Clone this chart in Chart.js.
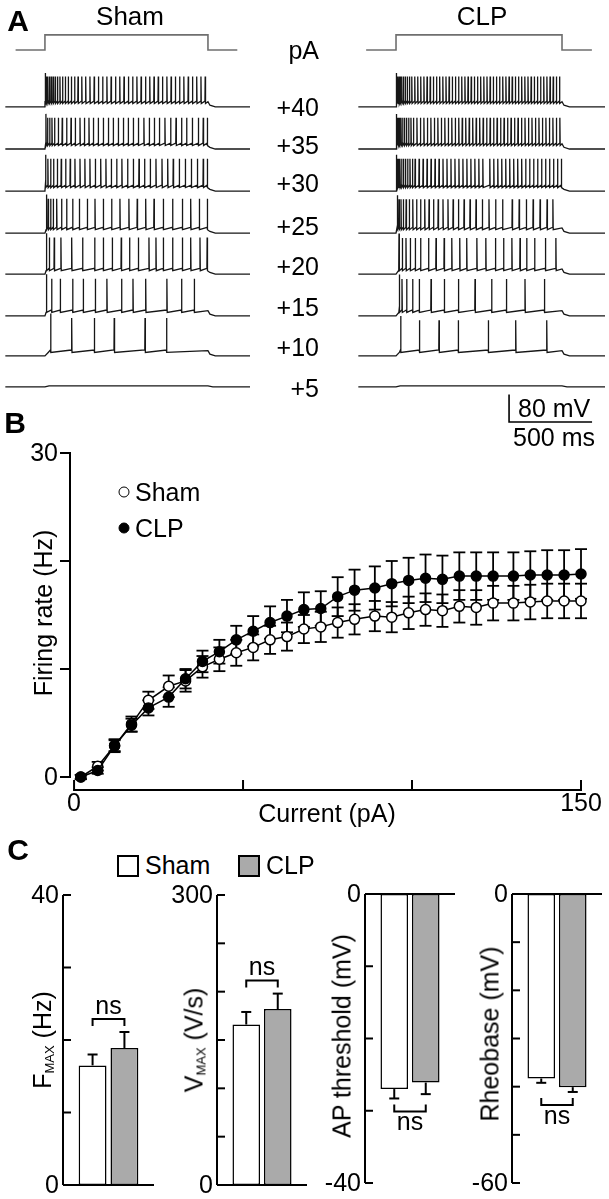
<!DOCTYPE html>
<html>
<head>
<meta charset="utf-8">
<script src="https://cdn.jsdelivr.net/npm/chart.js@4.4.1/dist/chart.umd.min.js"></script>
<style>
html, body { margin: 0; padding: 0; background: #fff; }
#fig { position: relative; width: 609px; height: 1199px; overflow: hidden;
       font-family: "Liberation Sans", Arial, sans-serif; color: #000; }
#fig canvas { position: absolute; }
.t { position: absolute; line-height: 1; white-space: nowrap; font-size: 25px;
     transform: translate(-50%, -50%); }
.r { transform: translate(-100%, -50%); }
.l { transform: translate(0, -50%); }
.rot { transform: translate(-50%, -50%) rotate(-90deg); }
.title { font-size: 26px; }
.letter { font-weight: bold; font-size: 30px; }
.sub { font-size: 13px; position: relative; top: 3px; }
.box { position: absolute; width: 18px; height: 18px; border: 2px solid #000; }
.dot { position: absolute; width: 9px; height: 9px; border: 1.5px solid #000; border-radius: 50%;
       transform: translate(-50%, -50%); }
</style>
</head>
<body>
<div id="fig">
  <canvas id="traceSham" width="305" height="422" style="left:0;top:28px"></canvas>
  <canvas id="traceClp" width="279" height="422" style="left:330px;top:28px"></canvas>
  <canvas id="rateChart" width="609" height="390" style="left:0;top:440px"></canvas>
  <canvas id="fmaxChart" width="165" height="319" style="left:0;top:880px"></canvas>
  <canvas id="vmaxChart" width="150" height="319" style="left:165px;top:880px"></canvas>
  <canvas id="apChart" width="147" height="319" style="left:315px;top:880px"></canvas>
  <canvas id="rheoChart" width="147" height="319" style="left:462px;top:880px"></canvas>

  <div class="t letter" style="left:18px;top:21px">A</div>
  <div class="t title" style="left:130px;top:16px">Sham</div>
  <div class="t title" style="left:482px;top:16px">CLP</div>
  <div class="t r" style="left:319px;top:50px">pA</div>
  <div id="stepLabelBox"></div>
  <div class="t l" style="left:518px;top:408px">80 mV</div>
  <div class="t l" style="left:513px;top:437px">500 ms</div>

  <div class="t letter" style="left:15px;top:423px">B</div>
  <div class="t rot" style="left:43px;top:613px">Firing rate (Hz)</div>
  <div class="t" style="left:327px;top:813px">Current (pA)</div>
  <div class="dot" style="left:124px;top:492px;background:#fff"></div>
  <div class="t l" style="left:135px;top:492px">Sham</div>
  <div class="dot" style="left:124px;top:528px;background:#000"></div>
  <div class="t l" style="left:135px;top:528px">CLP</div>

  <div class="t letter" style="left:18px;top:850px">C</div>
  <div class="box" style="left:117px;top:855px;background:#fff"></div>
  <div class="t l" style="left:145px;top:865px">Sham</div>
  <div class="box" style="left:238px;top:855px;background:#aaaaaa"></div>
  <div class="t l" style="left:266px;top:865px">CLP</div>
  <div class="t rot" style="left:42px;top:1040px">F<span class="sub">MAX</span> (Hz)</div>
  <div class="t rot" style="left:194px;top:1040px">V<span class="sub">MAX</span> (V/s)</div>
  <div class="t rot" style="left:342px;top:1036px">AP threshold (mV)</div>
  <div class="t rot" style="left:490px;top:1034px">Rheobase (mV)</div>
</div>

<script>
// ---------------- panel A: spike times (ms after step onset) ----------------
const stepLabels = ['+40', '+35', '+30', '+25', '+20', '+15', '+10', '+5'];

const shamSpikes = [
  [2, 9, 17, 27, 38, 50, 63, 77, 92, 108, 125, 143, 162, 182, 203, 226, 250, 276, 302, 328, 354, 380, 406, 433, 459, 485, 512, 538, 564, 590, 617, 643, 669, 695, 721, 748, 774, 800, 826, 852, 879, 905, 931, 957, 983],
  [6, 16, 29, 43, 59, 82, 106, 133, 160, 186, 215, 242, 270, 297, 327, 358, 389, 419, 450, 481, 511, 542, 573, 607, 640, 671, 702, 736, 771, 804, 838, 869, 904, 941, 971, 996],
  [4, 18, 35, 53, 76, 100, 127, 155, 184, 215, 245, 276, 309, 342, 374, 407, 440, 472, 507, 542, 577, 611, 646, 681, 718, 753, 787, 824, 861, 898, 935, 971, 996],
  [10, 20, 35, 51, 72, 102, 133, 170, 211, 260, 307, 358, 409, 460, 515, 566, 618, 669, 726, 783, 843, 894, 947, 996],
  [10, 27, 57, 98, 164, 231, 305, 358, 413, 468, 519, 573, 638, 681, 726, 783, 843, 894, 951, 995],
  [10, 41, 94, 170, 235, 309, 380, 470, 540, 618, 748, 838, 916],
  [35, 164, 303, 425, 614, 746],
  []
];

const clpSpikes = [
  [2, 6, 11, 18, 26, 35, 45, 56, 68, 81, 95, 113, 131, 149, 168, 187, 206, 225, 244, 263, 282, 301, 320, 339, 358, 377, 396, 415, 434, 453, 472, 491, 510, 529, 548, 567, 586, 605, 624, 643, 662, 681, 700, 719, 738, 757, 776, 795, 814, 833, 852, 871, 890, 909, 928, 947, 966, 985],
  [2, 7, 13, 21, 30, 40, 51, 63, 76, 90, 105, 126, 147, 168, 189, 210, 231, 252, 273, 294, 315, 336, 357, 378, 399, 420, 441, 462, 483, 504, 525, 546, 567, 588, 609, 630, 651, 672, 693, 714, 735, 756, 777, 798, 819, 840, 861, 882, 903, 924, 945, 966, 987],
  [3, 9, 16, 24, 34, 45, 57, 70, 84, 99, 115, 139, 163, 187, 211, 235, 259, 283, 307, 331, 355, 379, 403, 427, 451, 475, 499, 523, 565, 589, 613, 637, 661, 685, 709, 733, 757, 781, 805, 829, 853, 877, 901, 925, 949, 973, 996],
  [8, 18, 30, 44, 61, 80, 101, 124, 148, 173, 199, 226, 254, 283, 313, 344, 376, 410, 446, 482, 520, 560, 600, 642, 700, 742, 785, 826, 868, 910, 945],
  [18, 38, 60, 86, 116, 148, 196, 241, 290, 336, 384, 426, 487, 541, 599, 648, 698, 747, 787, 835, 900, 963],
  [20, 36, 64, 100, 140, 211, 291, 376, 476, 576, 665, 777, 894],
  [28, 141, 259, 375, 556, 721, 908],
  []
];

// spike height above rest (mV)
const shamAmp = [88, 91, 94, 100, 106, 108, 110, 0];
const clpAmp  = [88, 91, 94, 98, 105, 107, 103, 0];

const stepMs = 1000;
const restMv = -65;
const scaleBarMs = 500, scaleBarMv = 80;

// ---------------- panel B: firing rate vs injected current ----------------
const currents  = [2, 7, 12, 17, 22, 28, 33, 38, 43, 48, 53, 58, 63, 68, 73, 78, 83, 89, 94, 99, 104, 109, 114, 119, 124, 130, 135, 140, 145, 150];
const shamRate  = [0, 1.0, 2.9, 4.9, 7.1, 8.4, 8.9, 10.2, 10.9, 11.5, 12.0, 12.7, 13.0, 13.7, 13.9, 14.3, 14.6, 14.9, 14.8, 15.2, 15.5, 15.4, 15.8, 15.7, 16.1, 16.1, 16.2, 16.3, 16.3, 16.3];
const shamSem   = [0.2, 0.4, 0.6, 0.7, 0.8, 1.0, 1.0, 1.0, 1.1, 1.2, 1.2, 1.3, 1.3, 1.3, 1.4, 1.4, 1.4, 1.4, 1.4, 1.5, 1.5, 1.5, 1.5, 1.6, 1.6, 1.6, 1.6, 1.6, 1.6, 1.6];
const clpRate   = [0, 0.6, 2.9, 4.8, 6.4, 7.4, 9.1, 10.7, 11.6, 12.7, 13.5, 14.3, 14.9, 15.5, 15.6, 16.7, 17.3, 17.5, 17.9, 18.2, 18.4, 18.3, 18.6, 18.6, 18.6, 18.6, 18.7, 18.7, 18.7, 18.8];
const clpSem    = [0.2, 0.3, 0.5, 0.6, 0.7, 0.9, 0.9, 1.0, 1.1, 1.3, 1.4, 1.5, 1.5, 1.6, 1.6, 1.8, 1.9, 2.0, 2.1, 2.1, 2.2, 2.2, 2.2, 2.2, 2.2, 2.2, 2.2, 2.3, 2.3, 2.3];
const rateTicks = [0, 10, 20, 30];
const rateTickLabels = ['0', '', '', '30'];
const currentTicks = [0, 50, 100, 150];
const currentTickLabels = ['0', '', '', '150'];

// ---------------- panel C: group means ± SEM ----------------
const groups = ['Sham', 'CLP'];
const fmax = [16.5, 18.9],   fmaxSem = [1.5, 2.2];
const vmax = [166, 182],     vmaxSem = [13, 16];
const apThr = [-27.0, -26.1], apThrSem = [1.3, 1.6];
const rheo = [-38.3, -40.1], rheoSem = [0.9, 1.0];
const fmaxTicks = [0, 10, 20, 30, 40];
const vmaxTicks = [0, 50, 100, 150, 200, 250, 300];
const apTicks = [0, -10, -20, -30, -40];
const rheoTicks = [0, -10, -20, -30, -40, -50, -60];
const sigLabel = 'ns';

// ---------------- layout ----------------
const FONT = '"Liberation Sans", Arial, sans-serif';
const rowOffset = [-164, -286, -408, -530, -649, -770, -886, -976];
const cmdLow = -64, cmdHigh = -20;
const barFill = ['#ffffff', '#aaaaaa'];

// step labels in the middle column
(function () {
  const ys = [107, 145, 183, 226, 266, 307, 347, 388];
  const box = document.getElementById('stepLabelBox');
  stepLabels.forEach((s, i) => {
    const d = document.createElement('div');
    d.className = 't r';
    d.style.left = '319px';
    d.style.top = ys[i] + 'px';
    d.textContent = s;
    box.appendChild(d);
  });
})();

/* ---------------- trace builder ---------------- */

function buildTrace(spikes, amp, off, tStart, tEnd) {
  const rest = restMv + off;
  const ahp = rest + 10, thr = rest + 17;
  const pts = [{ x: tStart, y: rest }, { x: 0, y: rest }];

  if (!spikes.length) {
    pts.push({ x: 25, y: rest + 3 }, { x: stepMs, y: rest + 3 },
             { x: stepMs + 30, y: rest }, { x: tEnd, y: rest });
    return pts;
  }
  if (spikes[0] > 8) pts.push({ x: Math.min(20, spikes[0] - 3), y: ahp });

  spikes.forEach((t, k) => {
    pts.push({ x: t - 1.5, y: thr });
    pts.push({ x: t, y: rest + (k === 0 ? amp * 1.12 : amp) });
    pts.push({ x: t + 2, y: ahp });
  });

  const last = spikes[spikes.length - 1];
  if (last < stepMs - 6) pts.push({ x: stepMs, y: thr - 2 });
  pts.push({ x: stepMs + 12, y: rest + 5 }, { x: stepMs + 45, y: rest }, { x: tEnd, y: rest });
  return pts;
}

const scaleBarPlugin = {
  id: 'scaleBar',
  afterDatasetsDraw(chart) {
    const { ctx, scales: { x, y } } = chart;
    const at = { t: 681, v: -1143 };
    ctx.save();
    ctx.strokeStyle = '#000';
    ctx.lineWidth = 1.6;
    ctx.beginPath();
    ctx.moveTo(x.getPixelForValue(at.t), y.getPixelForValue(at.v + scaleBarMv));
    ctx.lineTo(x.getPixelForValue(at.t), y.getPixelForValue(at.v));
    ctx.lineTo(x.getPixelForValue(at.t + scaleBarMs), y.getPixelForValue(at.v));
    ctx.stroke();
    ctx.restore();
  }
};

function traceChart(id, spikes, amps, xmin, xmax, pad, extra) {
  const datasets = spikes.map((s, i) => ({
    data: buildTrace(s, amps[i], rowOffset[i], xmin + 2, xmax - 6),
    borderColor: '#161616',
    borderWidth: 1.3,
    pointRadius: 0,
    showLine: true,
    tension: 0
  }));
  datasets.push({
    data: [
      { x: -180, y: cmdLow }, { x: 0, y: cmdLow }, { x: 0, y: cmdHigh },
      { x: stepMs, y: cmdHigh }, { x: stepMs, y: cmdLow }, { x: 1180, y: cmdLow }
    ],
    borderColor: '#6f6f6f',
    borderWidth: 1.6,
    pointRadius: 0,
    showLine: true,
    tension: 0
  });

  return new Chart(document.getElementById(id), {
    type: 'scatter',
    data: { datasets },
    options: {
      responsive: false,
      animation: false,
      devicePixelRatio: 1,
      events: [],
      layout: { padding: pad },
      scales: {
        x: { type: 'linear', display: false, min: xmin, max: xmax },
        y: { type: 'linear', display: false, min: -1224, max: 0 }
      },
      plugins: { legend: { display: false }, tooltip: { enabled: false } }
    },
    plugins: extra
  });
}

traceChart('traceSham', shamSpikes, shamAmp, -245, 1264,
  { left: 5, right: 54, top: 0, bottom: 0 }, []);
traceChart('traceClp', clpSpikes, clpAmp, -229, 1265,
  { left: 28, right: 3, top: 0, bottom: 0 }, [scaleBarPlugin]);

/* ---------------- panel B ---------------- */

function line(ctx, x1, y1, x2, y2) {
  ctx.beginPath();
  ctx.moveTo(x1, y1);
  ctx.lineTo(x2, y2);
  ctx.stroke();
}

const rateErrPlugin = {
  id: 'rateErr',
  beforeDatasetsDraw(chart) {
    const { ctx, scales: { x, y } } = chart;
    const sets = [[clpRate, clpSem], [shamRate, shamSem]];
    ctx.save();
    ctx.strokeStyle = '#000';
    ctx.lineWidth = 1.8;
    sets.forEach(([vals, sems]) => {
      vals.forEach((v, i) => {
        const px = x.getPixelForValue(currents[i]);
        const hi = y.getPixelForValue(v + sems[i]);
        const lo = y.getPixelForValue(v - sems[i]);
        line(ctx, px, hi, px, lo);
        line(ctx, px - 6, hi, px + 6, hi);
        line(ctx, px - 6, lo, px + 6, lo);
      });
    });
    ctx.restore();
  }
};

const rateAxesPlugin = {
  id: 'rateAxes',
  afterDraw(chart) {
    const { ctx, chartArea, scales: { x, y } } = chart;
    ctx.save();
    ctx.strokeStyle = '#000';
    ctx.fillStyle = '#000';
    ctx.lineWidth = 2;
    ctx.font = '25px ' + FONT;

    const xl = chartArea.left;
    line(ctx, xl, y.getPixelForValue(0) + 1, xl, y.getPixelForValue(30) - 1);
    ctx.textAlign = 'right';
    ctx.textBaseline = 'middle';
    rateTicks.forEach((v, i) => {
      const py = y.getPixelForValue(v);
      line(ctx, xl - 10, py, xl, py);
      if (rateTickLabels[i]) ctx.fillText(rateTickLabels[i], xl - 12, py + 1);
    });

    const xb = y.getPixelForValue(0) + 13;
    line(ctx, x.getPixelForValue(0) - 1, xb, x.getPixelForValue(150) + 1, xb);
    ctx.textAlign = 'center';
    currentTicks.forEach((v, i) => {
      const px = x.getPixelForValue(v);
      line(ctx, px, xb - 10, px, xb);
      if (currentTickLabels[i]) ctx.fillText(currentTickLabels[i], px, xb + 14);
    });
    ctx.restore();
  }
};

new Chart(document.getElementById('rateChart'), {
  type: 'scatter',
  data: {
    datasets: [
      {
        label: 'CLP',
        data: currents.map((c, i) => ({ x: c, y: clpRate[i] })),
        showLine: true, tension: 0, clip: false,
        borderColor: '#000', borderWidth: 1.5,
        pointRadius: 5, pointBackgroundColor: '#000',
        pointBorderColor: '#000', pointBorderWidth: 1.5
      },
      {
        label: 'Sham',
        data: currents.map((c, i) => ({ x: c, y: shamRate[i] })),
        showLine: true, tension: 0, clip: false,
        borderColor: '#000', borderWidth: 1.5,
        pointRadius: 5, pointBackgroundColor: '#fff',
        pointBorderColor: '#000', pointBorderWidth: 1.5
      }
    ]
  },
  options: {
    responsive: false,
    animation: false,
    devicePixelRatio: 1,
    events: [],
    layout: { padding: { left: 70, right: 28, top: 13, bottom: 53 } },
    scales: {
      x: { type: 'linear', display: false, min: -1.2, max: 150 },
      y: { type: 'linear', display: false, min: 0, max: 30 }
    },
    plugins: { legend: { display: false }, tooltip: { enabled: false } }
  },
  plugins: [rateErrPlugin, rateAxesPlugin]
});

/* ---------------- panel C ---------------- */

function barFrame(ticks, sems) {
  return {
    id: 'barFrame',
    afterDraw(chart) {
      const { ctx, chartArea, scales: { y } } = chart;
      const neg = ticks[ticks.length - 1] < 0;
      const xl = chartArea.left;
      ctx.save();
      ctx.strokeStyle = '#000';
      ctx.fillStyle = '#000';
      ctx.lineWidth = 2;
      ctx.font = '25px ' + FONT;

      // axes
      line(ctx, xl, chartArea.top, xl, chartArea.bottom);
      line(ctx, xl, y.getPixelForValue(0), chartArea.right, y.getPixelForValue(0));

      ctx.textAlign = 'right';
      ctx.textBaseline = 'middle';
      ticks.forEach((v, i) => {
        const py = y.getPixelForValue(v);
        line(ctx, xl, py, xl + 8, py);
        if (i === 0 || i === ticks.length - 1) ctx.fillText(String(v), xl - 4, py + 1);
      });

      // error bars, away from zero
      const ends = [];
      const cx = [];
      chart.data.datasets.forEach((ds, i) => {
        const el = chart.getDatasetMeta(i).data[0];
        const v = ds.data[0];
        const e = y.getPixelForValue(neg ? v - sems[i] : v + sems[i]);
        line(ctx, el.x, el.y, el.x, e);
        line(ctx, el.x - 5, e, el.x + 5, e);
        ends.push(e);
        cx.push(el.x);
      });

      // significance bracket
      ctx.textAlign = 'center';
      if (neg) {
        const by = Math.max(...ends) + 13;
        ctx.beginPath();
        ctx.moveTo(cx[0], by - 7); ctx.lineTo(cx[0], by);
        ctx.lineTo(cx[1], by); ctx.lineTo(cx[1], by - 7);
        ctx.stroke();
        ctx.fillText(sigLabel, (cx[0] + cx[1]) / 2, by + 12);
      } else {
        const by = Math.min(...ends) - 13;
        ctx.beginPath();
        ctx.moveTo(cx[0], by + 7); ctx.lineTo(cx[0], by);
        ctx.lineTo(cx[1], by); ctx.lineTo(cx[1], by + 7);
        ctx.stroke();
        ctx.fillText(sigLabel, (cx[0] + cx[1]) / 2, by - 12);
      }
      ctx.restore();
    }
  };
}

function barPanel(id, vals, sems, ticks, pad) {
  const lo = Math.min(...ticks), hi = Math.max(...ticks);
  new Chart(document.getElementById(id), {
    type: 'bar',
    data: {
      labels: [''],
      datasets: groups.map((g, i) => ({
        label: g,
        data: [vals[i]],
        backgroundColor: barFill[i],
        borderColor: '#000',
        borderWidth: 1.5,
        borderSkipped: false,
        categoryPercentage: 0.70,
        barPercentage: 0.875
      }))
    },
    options: {
      responsive: false,
      animation: false,
      devicePixelRatio: 1,
      events: [],
      layout: { padding: pad },
      scales: {
        x: { display: false },
        y: { display: false, min: lo, max: hi }
      },
      plugins: { legend: { display: false }, tooltip: { enabled: false } }
    },
    plugins: [barFrame(ticks, sems)]
  });
}

barPanel('fmaxChart', fmax, fmaxSem, fmaxTicks, { left: 63, right: 11, top: 15, bottom: 14 });
barPanel('vmaxChart', vmax, vmaxSem, vmaxTicks, { left: 52, right: 8, top: 15, bottom: 14 });
barPanel('apChart', apThr, apThrSem, apTicks, { left: 50, right: 7, top: 14, bottom: 16 });
barPanel('rheoChart', rheo, rheoSem, rheoTicks, { left: 50, right: 7, top: 14, bottom: 16 });
</script>
</body>
</html>
